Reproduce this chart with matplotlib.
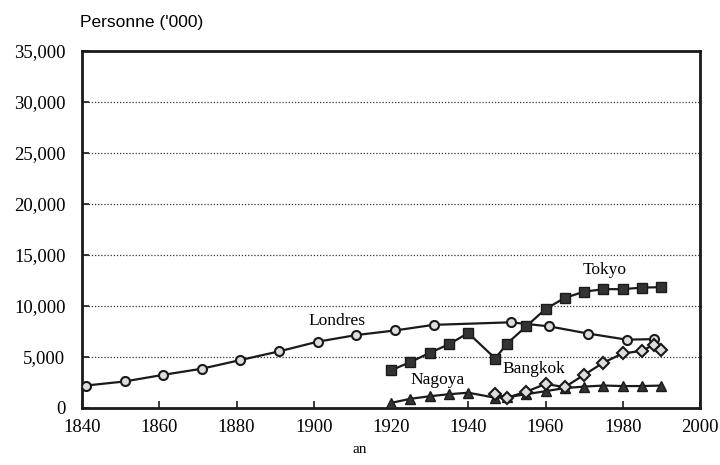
import matplotlib
matplotlib.use("Agg")
import matplotlib.pyplot as plt
from matplotlib.ticker import FuncFormatter

london_years = [1841, 1851, 1861, 1871, 1881, 1891, 1901, 1911, 1921, 1931, 1951, 1961, 1971, 1981, 1988]
london_vals = [2200, 2600, 3250, 3850, 4700, 5550, 6500, 7150, 7600, 8150, 8400, 8000, 7300, 6700, 6750]

tokyo_years = [1920, 1925, 1930, 1935, 1940, 1947, 1950, 1955, 1960, 1965, 1970, 1975, 1980, 1985, 1990]
tokyo_vals = [3700, 4500, 5400, 6250, 7350, 4850, 6300, 8000, 9700, 10800, 11400, 11650, 11650, 11800, 11850]

nagoya_years = [1920, 1925, 1930, 1935, 1940, 1947, 1950, 1955, 1960, 1965, 1970, 1975, 1980, 1985, 1990]
nagoya_vals = [500, 900, 1150, 1350, 1500, 1000, 1050, 1350, 1650, 1950, 2100, 2200, 2150, 2150, 2200]

bangkok_years = [1947, 1950, 1955, 1960, 1965, 1970, 1975, 1980, 1985, 1988, 1990]
bangkok_vals = [1350, 1000, 1600, 2350, 2050, 3250, 4450, 5350, 5600, 6200, 5700]

xticks = [1840, 1860, 1880, 1900, 1920, 1940, 1960, 1980, 2000]
yticks = [0, 5000, 10000, 15000, 20000, 25000, 30000, 35000]

serif = ["Liberation Serif", "DejaVu Serif"]

fig = plt.figure(figsize=(7.2, 4.65), dpi=100)
ax = fig.add_axes([0.114, 0.1226, 0.8582, 0.7677])

ax.set_xlim(1840, 2000)
ax.set_ylim(0, 35000)

for y in yticks[1:-1]:
    ax.axhline(y, color="#333333", linestyle=(0, (1, 1.5)), linewidth=0.9, zorder=1)

lc = "#1a1a1a"
ax.plot(london_years, london_vals, color=lc, linewidth=1.6, marker="o", markersize=6.5,
        markerfacecolor="#dddddd", markeredgecolor=lc, markeredgewidth=1.5, zorder=3)
ax.plot(tokyo_years, tokyo_vals, color=lc, linewidth=1.6, marker="s", markersize=7.5,
        markerfacecolor="#333333", markeredgecolor=lc, zorder=4)
ax.plot(nagoya_years, nagoya_vals, color=lc, linewidth=1.6, marker="^", markersize=7,
        markerfacecolor="#333333", markeredgecolor=lc, zorder=3)
ax.plot(bangkok_years, bangkok_vals, color=lc, linewidth=1.6, marker="D", markersize=6,
        markerfacecolor="#dddddd", markeredgecolor=lc, markeredgewidth=1.5, zorder=3)

ax.text(1975.4, 13500, "Tokyo", fontsize=12.5, family=serif, ha="center", va="center")
ax.text(1906, 8550, "Londres", fontsize=12.5, family=serif, ha="center", va="center")
ax.text(1932, 2750, "Nagoya", fontsize=12.5, family=serif, ha="center", va="center")
ax.text(1957, 3850, "Bangkok", fontsize=12.5, family=serif, ha="center", va="center")

ax.set_xticks(xticks)
ax.set_yticks(yticks)
ax.yaxis.set_major_formatter(FuncFormatter(lambda v, p: f"{int(v):,}"))
ax.tick_params(axis="both", direction="in", length=5, width=1.2, labelsize=13.5, color=lc)
ax.tick_params(axis="x", pad=8)
ax.tick_params(axis="y", pad=12)
for lab in ax.get_xticklabels() + ax.get_yticklabels():
    lab.set_family(serif)

for s in ax.spines.values():
    s.set_linewidth(2)
    s.set_color(lc)

fig.text(80 / 720, 1 - 22 / 465, "Personne ('000)", fontsize=12.5, family=["Liberation Sans", "DejaVu Sans"],
         ha="left", va="center")
fig.text(0.5, 1 - 449 / 465, "an", fontsize=11, family=serif, ha="center", va="center")

fig.savefig("out.png", dpi=100)
